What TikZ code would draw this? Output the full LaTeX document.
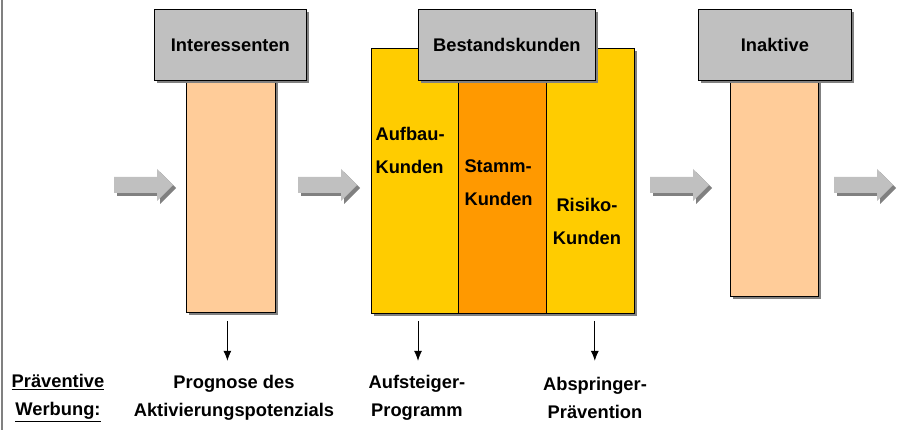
\documentclass[tikz,border=0pt]{standalone}
\usepackage{fontspec}
\setmainfont{Liberation Sans}
\usetikzlibrary{%
  arrows.meta,%
  shadows,%
  positioning%
}
\definecolor{kopfgrau}{HTML}{C0C0C0}
\definecolor{hellorange}{HTML}{FFCC99}
\definecolor{gelb}{HTML}{FFCC00}
\definecolor{dunkelorange}{HTML}{FF9900}
\definecolor{schattengrau}{HTML}{808080}
\tikzset{>={Latex[length=10pt,width=8pt]},%
  schatten/.style={drop shadow={shadow xshift=3pt,shadow yshift=-3pt,
    fill=schattengrau,opacity=1}},%
  kasten/.style={draw,line width=0.8pt,inner sep=0pt,anchor=north west},%
  kopf/.style={kasten,schatten,fill=kopfgrau,minimum height=71pt},%
  saeule/.style={kasten,schatten},%
  schrift/.style={font=\bfseries\fontsize{18.3}{33}\selectfont},%
  unten/.style={font=\bfseries\fontsize{18.3}{28}\selectfont,align=center},%
  pfeil/.style={->,line width=0.8pt}}

\begin{document}
\begin{tikzpicture}[x=1pt,y=-1pt]
    \useasboundingbox (0,0) rectangle (907,435);
    \draw[schattengrau,line width=1.2pt] (2,0) -- (2,430);
    % graue Flusspfeile
    \foreach \x in {114,298,650,834} {
      \fill[schattengrau,shift={(3,3)}] (\x,177) -- ++(43,0) -- ++(0,-8)
        -- ++(16,16) -- ++(-16,16) -- ++(0,-8) -- (\x,193) -- cycle;
      \fill[kopfgrau] (\x,177) -- ++(43,0) -- ++(0,-8)
        -- ++(16,16) -- ++(-16,16) -- ++(0,-8) -- (\x,193) -- cycle;
    }
    % Saeulen
    \node[saeule,fill=hellorange,minimum width=89pt,minimum height=232pt]
      (intsp) at (186,80) {};
    \node[saeule,fill=hellorange,minimum width=88pt,minimum height=216pt]
      (inaktsp) at (730,80) {};
    \node[saeule,fill=gelb,minimum width=263pt,minimum height=265pt]
      (bst) at (371,48) {};
    \node[kasten,fill=dunkelorange,minimum width=88pt,minimum height=265pt]
      (stamm) at (458,48) {};
    % Koepfe
    \node[kopf,minimum width=152pt,schrift] (int) at (154,9) {Interessenten};
    \node[kopf,minimum width=177pt,schrift] (bstkopf) at (418,9) {Bestandskunden};
    \node[kopf,minimum width=153pt,schrift] (inakt) at (698,9) {Inaktive};
    % Kundengruppen
    \node[schrift,align=left,anchor=west] (aufbau) at (372,150)
      {Aufbau-\\Kunden};
    \node[schrift,align=left,anchor=west] (stammtxt) at (461,183)
      {Stamm-\\Kunden};
    \node[schrift,align=center] (risiko) at (587,221) {Risiko-\\Kunden};
    % Praeventive Werbung
    \node[unten] (praev) at (58,398)
      {\underline{Präventive}\\\underline{Werbung:}};
    \node[unten] (prog) at (234,398) {Prognose des\\Aktivierungspotenzials};
    \node[unten] (aufst) at (417,398) {Aufsteiger-\\Programm};
    \node[unten] (abspr) at (595,398) {Abspringer-\\Prävention};
    \draw[pfeil] ([xshift=-3.5pt,yshift=-8pt]intsp.south)
      -- ([xshift=-3.5pt,yshift=-48pt]intsp.south);
    \draw[pfeil] ([xshift=47pt,yshift=-7pt]bst.south west)
      -- ([xshift=47pt,yshift=-47pt]bst.south west);
    \draw[pfeil] ([xshift=-40pt,yshift=-7pt]bst.south east)
      -- ([xshift=-40pt,yshift=-47pt]bst.south east);
\end{tikzpicture}
\end{document}
